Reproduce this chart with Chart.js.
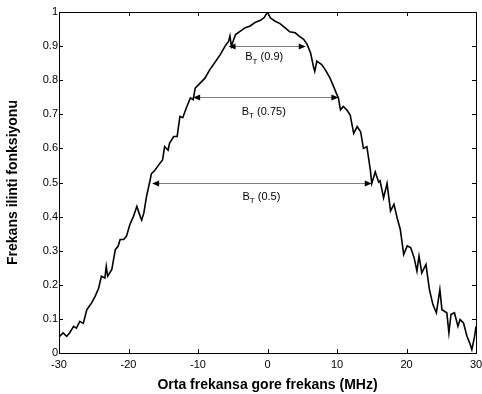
<!DOCTYPE html>
<html><head><meta charset="utf-8">
<script src="https://cdn.jsdelivr.net/npm/chart.js@4"></script>
<style>html,body{margin:0;padding:0;background:#fff}#wrap{width:482px;height:394px}</style>
</head><body><div id="wrap"><canvas id="c" width="482" height="394"></canvas></div>
<script>
const freqs = [-30.0,-29.4,-28.9,-28.5,-27.9,-27.5,-27.0,-26.5,-26.0,-25.3,-24.8,-24.3,-23.9,-23.4,-23.2,-23.0,-22.4,-21.9,-21.5,-21.2,-20.7,-20.3,-19.8,-19.3,-18.8,-18.3,-18.1,-17.8,-17.4,-16.9,-16.7,-16.2,-15.5,-15.1,-14.8,-14.3,-14.1,-13.5,-13.0,-12.6,-12.2,-11.6,-11.1,-10.7,-10.4,-9.9,-9.0,-8.3,-7.6,-6.8,-6.1,-5.6,-5.4,-5.2,-4.6,-3.9,-3.2,-2.5,-1.8,-1.0,-0.5,0,0.4,1.1,1.8,2.5,3.2,4.0,4.5,5.2,5.7,6.2,6.6,6.8,7.1,7.8,8.3,9.0,9.5,9.9,10.2,10.5,10.9,11.4,11.9,12.4,12.9,13.4,13.8,14.3,14.8,15.0,15.5,16.0,16.2,16.7,17.2,17.7,18.2,18.7,19.1,19.6,20.1,20.6,21.1,21.5,21.8,22.2,22.8,23.3,23.8,24.3,24.8,25.1,25.8,26.1,26.4,26.9,27.4,27.7,28.2,28.7,29.1,29.4,29.8,30.0];
const corr = [0.047,0.059,0.049,0.058,0.078,0.073,0.093,0.087,0.127,0.147,0.166,0.19,0.225,0.22,0.254,0.225,0.245,0.303,0.313,0.333,0.333,0.342,0.377,0.40,0.43,0.40,0.39,0.41,0.46,0.506,0.526,0.536,0.556,0.566,0.605,0.595,0.615,0.635,0.635,0.694,0.69,0.723,0.748,0.743,0.777,0.787,0.806,0.831,0.851,0.875,0.90,0.914,0.93,0.90,0.934,0.944,0.954,0.959,0.969,0.976,0.983,1.0,0.983,0.973,0.966,0.954,0.942,0.939,0.93,0.92,0.905,0.88,0.841,0.826,0.856,0.846,0.831,0.806,0.782,0.762,0.748,0.713,0.723,0.713,0.698,0.644,0.664,0.649,0.60,0.605,0.536,0.497,0.531,0.501,0.505,0.455,0.497,0.417,0.436,0.392,0.363,0.289,0.314,0.309,0.279,0.24,0.284,0.235,0.26,0.186,0.142,0.118,0.186,0.127,0.118,0.059,0.113,0.118,0.078,0.098,0.088,0.049,0.029,0.01,0.049,0.078];
const xTicks = [-30,-20,-10,0,10,20,30];
const yTicks = [0,0.1,0.2,0.3,0.4,0.5,0.6,0.7,0.8,0.9,1];
const yTickLabels = ['0','0.1','0.2','0.3','0.4','0.5','0.6','0.7','0.8','0.9','1'];
const arrowLevels = [0.9, 0.75, 0.5];
const arrowLeft = [-5.6, -10.7, -16.6];
const arrowRight = [5.5, 10.2, 15.0];
const arrowLabels = ['(0.9)', '(0.75)', '(0.5)'];
const labelX = [-3.2, -3.7, -3.6];
const labelY = [0.867, 0.706, 0.458];

const FONT = "'Liberation Sans', Arial, Helvetica, sans-serif";

const decor = {
  id: 'decor',
  afterDraw(chart) {
    const ctx = chart.ctx, xs = chart.scales.x, ys = chart.scales.y;
    const L = xs.left, R = xs.right, T = ys.top, B = ys.bottom;
    ctx.save();
    ctx.strokeStyle = '#000'; ctx.lineWidth = 1;
    ctx.strokeRect(Math.round(L)+0.5, Math.round(T)+0.5, Math.round(R-L), Math.round(B-T));
    ctx.beginPath();
    xTicks.forEach(v => {
      const px = Math.round(xs.getPixelForValue(v)) + 0.5;
      ctx.moveTo(px, B); ctx.lineTo(px, B - 4);
      ctx.moveTo(px, T); ctx.lineTo(px, T + 4);
    });
    yTicks.forEach(v => {
      const py = Math.round(ys.getPixelForValue(v)) + 0.5;
      ctx.moveTo(L, py); ctx.lineTo(L + 4, py);
      ctx.moveTo(R, py); ctx.lineTo(R - 4, py);
    });
    ctx.stroke();
    arrowLevels.forEach((lv, i) => {
      const y = Math.round(ys.getPixelForValue(lv)) + 0.5;
      const x1 = xs.getPixelForValue(arrowLeft[i]);
      const x2 = xs.getPixelForValue(arrowRight[i]);
      ctx.strokeStyle = '#7f7f7f'; ctx.lineWidth = 1;
      ctx.beginPath(); ctx.moveTo(x1 + 2, y); ctx.lineTo(x2 - 2, y); ctx.stroke();
      ctx.fillStyle = '#000';
      ctx.beginPath(); ctx.moveTo(x1, y); ctx.lineTo(x1 + 7, y - 3); ctx.lineTo(x1 + 7, y + 3); ctx.closePath(); ctx.fill();
      ctx.beginPath(); ctx.moveTo(x2, y); ctx.lineTo(x2 - 7, y - 3); ctx.lineTo(x2 - 7, y + 3); ctx.closePath(); ctx.fill();
      const lx = xs.getPixelForValue(labelX[i]);
      const ly = ys.getPixelForValue(labelY[i]);
      ctx.fillStyle = '#000';
      ctx.textBaseline = 'middle'; ctx.textAlign = 'left';
      ctx.font = '11px ' + FONT;
      ctx.fillText('B', lx, ly);
      const bw = ctx.measureText('B').width;
      ctx.font = '8px ' + FONT;
      ctx.fillText('T', lx + bw, ly + 4);
      const tw = ctx.measureText('T').width;
      ctx.font = '11px ' + FONT;
      ctx.fillText(' ' + arrowLabels[i], lx + bw + tw, ly);
    });
    ctx.restore();
  }
};

new Chart(document.getElementById('c'), {
  type: 'line',
  data: {
    datasets: [{
      data: freqs.map((f, i) => ({x: f, y: corr[i]})),
      borderColor: '#000', borderWidth: 1.6, pointRadius: 0, tension: 0, fill: false
    }]
  },
  options: {
    responsive: false, animation: false, devicePixelRatio: 1,
    layout: {padding: {top: 12, right: 6, left: 0, bottom: 0}},
    plugins: {legend: {display: false}, tooltip: {enabled: false}},
    scales: {
      x: {
        type: 'linear', min: -30, max: 30,
        afterBuildTicks: s => { s.ticks = xTicks.map(v => ({value: v})); },
        afterFit: s => { s.height = 41; s.paddingLeft = 0; s.paddingRight = 0; },
        grid: {display: false, drawTicks: false}, border: {display: false},
        ticks: {color: '#000', font: {family: FONT, size: 11}, padding: 5, maxRotation: 0},
        title: {display: true, text: 'Orta frekansa gore frekans (MHz)', color: '#000', font: {family: FONT, size: 14, weight: 'bold'}, padding: {top: 2, bottom: 0}}
      },
      y: {
        type: 'linear', min: 0, max: 1,
        afterBuildTicks: s => { s.ticks = yTicks.map(v => ({value: v})); },
        afterFit: s => { s.width = 59; s.paddingTop = 0; s.paddingBottom = 0; },
        grid: {display: false, drawTicks: false}, border: {display: false},
        ticks: {color: '#000', font: {family: FONT, size: 11}, padding: 1,
          callback: (v, i) => yTickLabels[i]},
        title: {display: true, text: 'Frekans ilinti fonksiyonu', color: '#000', font: {family: FONT, size: 14, weight: 'bold'}, padding: {top: 5, bottom: 8}}
      }
    }
  },
  plugins: [decor]
});
</script></body></html>
